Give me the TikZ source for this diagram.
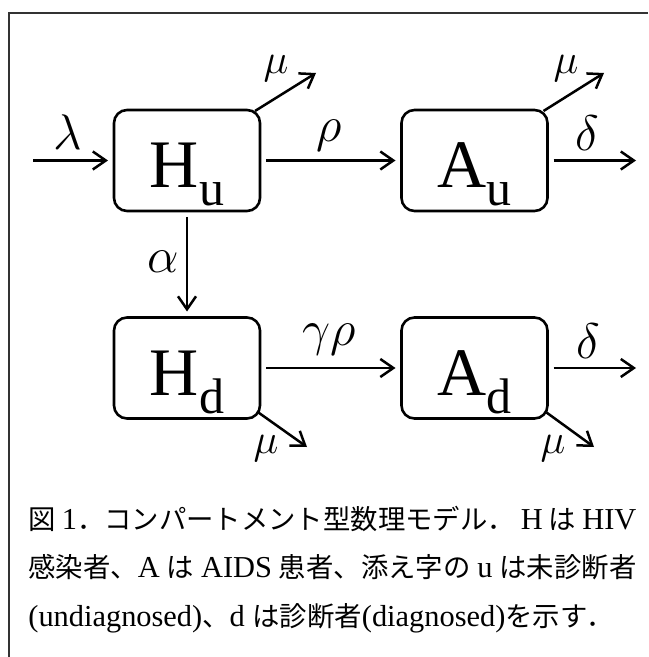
\documentclass[tikz,border=0pt]{standalone}
\usepackage{fix-cm}
\usepackage{fontspec}
\setmainfont{Liberation Serif}
\newfontfamily\jp[Scale=0.9]{Noto Sans CJK JP}
\usetikzlibrary{arrows.meta}

\newcommand{\comptext}[2]{#1\raisebox{-9pt}{\fontsize{25}{25}\selectfont #2}}

\begin{document}
\begin{tikzpicture}[x=0.5pt, y=-0.5pt,
	comp/.style={draw, line width=1.3pt, rounded corners=6.5pt,
		minimum width=73pt, minimum height=50.5pt, inner sep=0pt, outer sep=3pt,
		text height=27pt, text depth=0pt, font=\fontsize{34}{34}\selectfont},
	flow/.style={-{Straight Barb[length=6.5pt,width=9pt]}, line width=1.25pt},
	rate/.style={inner sep=0pt, font=\fontsize{25}{25}\selectfont},
	death/.style={inner sep=0pt, font=\fontsize{21}{21}\selectfont},
	caption/.style={inner sep=0pt, anchor=base west, font=\fontsize{15.2}{24}\selectfont}]

	\useasboundingbox (0,0) rectangle (648,657);

	% Marc
	\draw[line width=0.75pt, black!80] (648,13) -- (9,13) -- (9,657);

	% Compartiments
	\node[comp] (Hu) at (187,160.5) {\comptext{H}{u}};
	\node[comp] (Au) at (474.5,160.5) {\comptext{A}{u}};
	\node[comp] (Hd) at (187,368) {\comptext{H}{d}};
	\node[comp] (Ad) at (474.5,368) {\comptext{A}{d}};

	% Extrems lliures
	\coordinate (in) at (33,160.5);
	\coordinate (muHu) at (316,73);
	\coordinate (muAu) at (604,73);
	\coordinate (muHd) at (307,447);
	\coordinate (muAd) at (594,447);
	\coordinate (deAu) at (636,160.5);
	\coordinate (deAd) at (636,368);

	% Fluxos
	\draw[flow] (in) -- (Hu.west);
	\draw[flow] (Hu) -- (Au);
	\draw[flow] (Hu) -- (Hd);
	\draw[flow] (Hd) -- (Ad);
	\draw[flow] (Au.east) -- (deAu);
	\draw[flow] (Ad.east) -- (deAd);
	\draw[flow] ([shift={(-11,7)}]Hu.north east) -- (muHu);
	\draw[flow] ([shift={(-10,7)}]Au.north east) -- (muAu);
	\draw[flow] ([shift={(-9,-13)}]Hd.south east) -- (muHd);
	\draw[flow] ([shift={(-7,-12)}]Ad.south east) -- (muAd);

	% Taxes
	\node[rate] (lam) at (68,132.5) {$\lambda$};
	\node[rate] (rho) at (329,135.5) {$\rho$};
	\node[rate] (alp) at (163,262) {$\alpha$};
	\node[rate] (grho) at (329,340) {$\gamma\rho$};
	\node[rate] (delu) at (587,133.5) {$\delta$};
	\node[rate] (deld) at (588,341) {$\delta$};
	\node[death] (mu1) at (276,69) {$\mu$};
	\node[death] (mu2) at (566,69) {$\mu$};
	\node[death] (mu3) at (266,449) {$\mu$};
	\node[death] (mu4) at (553,449) {$\mu$};

	% Peu
	\node[caption] (cap1) at (28,529) {\makebox[304pt][s]{{\jp 図} 1{\jp ．コンパートメント型数理モデル．} H {\jp は} HIV}};
	\node[caption] (cap2) at (28,577) {\makebox[304pt][s]{{\jp 感染者、}A {\jp は} AIDS {\jp 患者、添え字の} u {\jp は未診断者}}};
	\node[caption] (cap3) at (28,626) {(undiagnosed){\jp 、}d {\jp は診断者}(diagnosed){\jp を示す．}};

\end{tikzpicture}
\end{document}
